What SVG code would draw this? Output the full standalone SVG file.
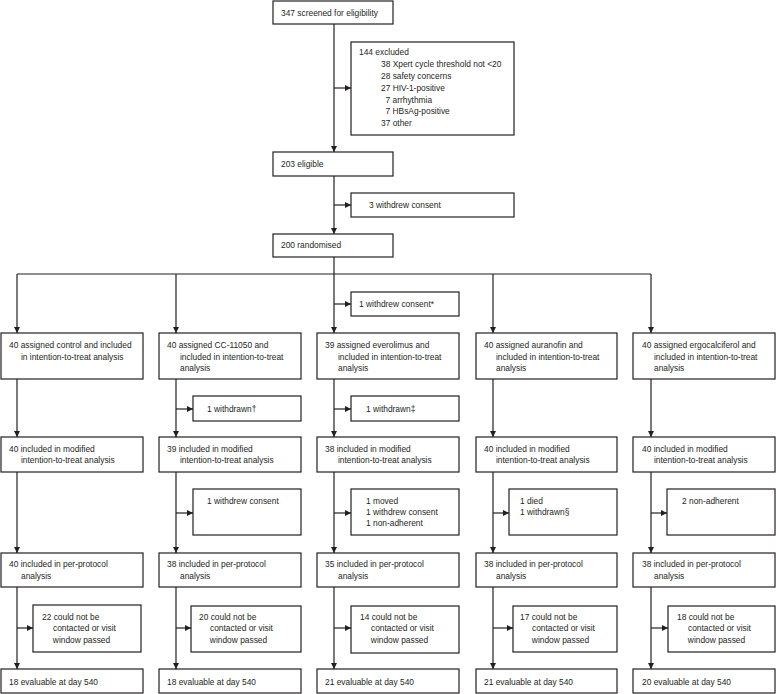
<svg xmlns="http://www.w3.org/2000/svg" width="776" height="694" viewBox="0 0 776 694">
<style>
.box{fill:#fff;stroke:#231f20;stroke-width:1.2}
.ln{fill:none;stroke:#231f20;stroke-width:1.2}
text{font-family:"Liberation Sans",Arial,sans-serif;font-size:9.6px;fill:#231f20;transform-box:fill-box;transform-origin:0 50%;transform:scaleX(0.875)}
</style>
<defs>
<marker id="ah" markerUnits="userSpaceOnUse" markerWidth="7" markerHeight="7" refX="6" refY="3" orient="auto"><path d="M0,0 L6,3 L0,6 z" fill="#231f20"/></marker>
</defs>
<g id="connectors">
<path class="ln" d="M334,24 V152" marker-end="url(#ah)"/>
<path class="ln" d="M334,88 H351" marker-end="url(#ah)"/>
<path class="ln" d="M334,176 V234" marker-end="url(#ah)"/>
<path class="ln" d="M334,205 H351" marker-end="url(#ah)"/>
<path class="ln" d="M334,257 V333" marker-end="url(#ah)"/>
<path class="ln" d="M17,274 H651"/>
<path class="ln" d="M17,274 V333" marker-end="url(#ah)"/>
<path class="ln" d="M176,274 V333" marker-end="url(#ah)"/>
<path class="ln" d="M493,274 V333" marker-end="url(#ah)"/>
<path class="ln" d="M651,274 V333" marker-end="url(#ah)"/>
<path class="ln" d="M334,304 H351" marker-end="url(#ah)"/>
<path class="ln" d="M17,379 V437" marker-end="url(#ah)"/>
<path class="ln" d="M176,379 V437" marker-end="url(#ah)"/>
<path class="ln" d="M334,379 V437" marker-end="url(#ah)"/>
<path class="ln" d="M493,379 V437" marker-end="url(#ah)"/>
<path class="ln" d="M651,379 V437" marker-end="url(#ah)"/>
<path class="ln" d="M176,409 H193" marker-end="url(#ah)"/>
<path class="ln" d="M334,409 H351" marker-end="url(#ah)"/>
<path class="ln" d="M17,472 V553" marker-end="url(#ah)"/>
<path class="ln" d="M176,472 V553" marker-end="url(#ah)"/>
<path class="ln" d="M334,472 V553" marker-end="url(#ah)"/>
<path class="ln" d="M493,472 V553" marker-end="url(#ah)"/>
<path class="ln" d="M651,472 V553" marker-end="url(#ah)"/>
<path class="ln" d="M176,513 H193" marker-end="url(#ah)"/>
<path class="ln" d="M334,513 H351" marker-end="url(#ah)"/>
<path class="ln" d="M493,513 H509" marker-end="url(#ah)"/>
<path class="ln" d="M651,513 H667" marker-end="url(#ah)"/>
<path class="ln" d="M17,587 V669" marker-end="url(#ah)"/>
<path class="ln" d="M176,587 V669" marker-end="url(#ah)"/>
<path class="ln" d="M334,587 V669" marker-end="url(#ah)"/>
<path class="ln" d="M493,587 V669" marker-end="url(#ah)"/>
<path class="ln" d="M651,587 V669" marker-end="url(#ah)"/>
<path class="ln" d="M17,628 H33" marker-end="url(#ah)"/>
<path class="ln" d="M176,628 H191" marker-end="url(#ah)"/>
<path class="ln" d="M334,628 H351" marker-end="url(#ah)"/>
<path class="ln" d="M493,628 H513" marker-end="url(#ah)"/>
<path class="ln" d="M651,628 H668" marker-end="url(#ah)"/>
</g>
<g id="screened"><rect class="box" x="273" y="1" width="120" height="23"/><text x="281" y="16">347 screened for eligibility</text></g>
<g id="excluded"><rect class="box" x="351" y="42" width="163" height="93"/>
<text x="359" y="55.5">144 excluded</text>
<text x="381" y="67.5">38 Xpert cycle threshold not &lt;20</text>
<text x="381" y="79.5">28 safety concerns</text>
<text x="381" y="91">27 HIV-1-positive</text>
<text x="385.5" y="103">7 arrhythmia</text>
<text x="385.5" y="114.5">7 HBsAg-positive</text>
<text x="381" y="126.5">37 other</text></g>
<g id="eligible"><rect class="box" x="273" y="152" width="120" height="24"/><text x="281" y="167.5">203 eligible</text></g>
<g id="withdrew3"><rect class="box" x="351" y="193" width="163" height="24"/><text x="369" y="208.5">3 withdrew consent</text></g>
<g id="randomised"><rect class="box" x="273" y="234" width="120" height="23"/><text x="281" y="248.5">200 randomised</text></g>
<g id="withdrew1"><rect class="box" x="351" y="292" width="108" height="24"/><text x="359" y="307.5">1 withdrew consent*</text></g>

<g id="assigned-control"><rect class="box" x="1" y="333" width="142" height="46"/><text x="9" y="348">40 assigned control and included</text><text x="21" y="360">in intention-to-treat analysis</text></g>
<g id="assigned-cc"><rect class="box" x="159" y="333" width="142" height="46"/><text x="167" y="348">40 assigned CC-11050 and</text><text x="180" y="360">included in intention-to-treat</text><text x="180" y="371.5">analysis</text></g>
<g id="assigned-evero"><rect class="box" x="317" y="333" width="142" height="46"/><text x="325" y="348">39 assigned everolimus and</text><text x="338" y="360">included in intention-to-treat</text><text x="338" y="371.5">analysis</text></g>
<g id="assigned-aura"><rect class="box" x="476" y="333" width="141" height="46"/><text x="484" y="348">40 assigned auranofin and</text><text x="496" y="360">included in intention-to-treat</text><text x="496" y="371.5">analysis</text></g>
<g id="assigned-ergo"><rect class="box" x="633" y="333" width="142" height="46"/><text x="642" y="348">40 assigned ergocalciferol and</text><text x="654" y="360">included in intention-to-treat</text><text x="654" y="371.5">analysis</text></g>

<g id="withdrawn-cc"><rect class="box" x="193" y="396" width="108" height="25"/><text x="207" y="412">1 withdrawn†</text></g>
<g id="withdrawn-evero"><rect class="box" x="351" y="396" width="108" height="25"/><text x="366" y="412">1 withdrawn‡</text></g>

<g id="mitt-control"><rect class="box" x="1" y="437" width="142" height="35"/><text x="9" y="452">40 included in modified</text><text x="21" y="463.5">intention-to-treat analysis</text></g>
<g id="mitt-cc"><rect class="box" x="159" y="437" width="142" height="35"/><text x="167" y="452">39 included in modified</text><text x="180" y="463.5">intention-to-treat analysis</text></g>
<g id="mitt-evero"><rect class="box" x="317" y="437" width="142" height="35"/><text x="325" y="452">38 included in modified</text><text x="338" y="463.5">intention-to-treat analysis</text></g>
<g id="mitt-aura"><rect class="box" x="476" y="437" width="141" height="35"/><text x="484" y="452">40 included in modified</text><text x="496" y="463.5">intention-to-treat analysis</text></g>
<g id="mitt-ergo"><rect class="box" x="633" y="437" width="142" height="35"/><text x="642" y="452">40 included in modified</text><text x="654" y="463.5">intention-to-treat analysis</text></g>

<g id="loss2-cc"><rect class="box" x="193" y="489" width="108" height="46"/><text x="207" y="504.5">1 withdrew consent</text></g>
<g id="loss2-evero"><rect class="box" x="351" y="489" width="108" height="46"/><text x="366" y="504.5">1 moved</text><text x="366" y="515.5">1 withdrew consent</text><text x="366" y="526.5">1 non-adherent</text></g>
<g id="loss2-aura"><rect class="box" x="509" y="489" width="108" height="46"/><text x="520" y="504.5">1 died</text><text x="520" y="515.5">1 withdrawn§</text></g>
<g id="loss2-ergo"><rect class="box" x="667" y="489" width="108" height="46"/><text x="682" y="504.5">2 non-adherent</text></g>

<g id="pp-control"><rect class="box" x="1" y="553" width="142" height="34"/><text x="9" y="567.5">40 included in per-protocol</text><text x="21" y="579">analysis</text></g>
<g id="pp-cc"><rect class="box" x="159" y="553" width="142" height="34"/><text x="167" y="567.5">38 included in per-protocol</text><text x="180" y="579">analysis</text></g>
<g id="pp-evero"><rect class="box" x="317" y="553" width="142" height="34"/><text x="325" y="567.5">35 included in per-protocol</text><text x="338" y="579">analysis</text></g>
<g id="pp-aura"><rect class="box" x="476" y="553" width="141" height="34"/><text x="484" y="567.5">38 included in per-protocol</text><text x="496" y="579">analysis</text></g>
<g id="pp-ergo"><rect class="box" x="633" y="553" width="142" height="34"/><text x="642" y="567.5">38 included in per-protocol</text><text x="654" y="579">analysis</text></g>

<g id="loss3-control"><rect class="box" x="33" y="605" width="108" height="47"/><text x="42" y="620.5">22 could not be</text><text x="53" y="631.5">contacted or visit</text><text x="53" y="643">window passed</text></g>
<g id="loss3-cc"><rect class="box" x="191" y="606" width="110" height="46"/><text x="199" y="620.5">20 could not be</text><text x="210" y="631.5">contacted or visit</text><text x="210" y="643">window passed</text></g>
<g id="loss3-evero"><rect class="box" x="351" y="606" width="108" height="47"/><text x="360" y="620.5">14 could not be</text><text x="371" y="631.5">contacted or visit</text><text x="371" y="643">window passed</text></g>
<g id="loss3-aura"><rect class="box" x="513" y="606" width="104" height="46"/><text x="520" y="620.5">17 could not be</text><text x="532" y="631.5">contacted or visit</text><text x="532" y="643">window passed</text></g>
<g id="loss3-ergo"><rect class="box" x="668" y="606" width="107" height="46"/><text x="677" y="620.5">18 could not be</text><text x="688" y="631.5">contacted or visit</text><text x="688" y="643">window passed</text></g>

<g id="eval-control"><rect class="box" x="1" y="669" width="142" height="24"/><text x="9" y="685">18 evaluable at day 540</text></g>
<g id="eval-cc"><rect class="box" x="159" y="669" width="142" height="24"/><text x="167" y="685">18 evaluable at day 540</text></g>
<g id="eval-evero"><rect class="box" x="317" y="669" width="142" height="24"/><text x="325" y="685">21 evaluable at day 540</text></g>
<g id="eval-aura"><rect class="box" x="476" y="669" width="141" height="24"/><text x="484" y="685">21 evaluable at day 540</text></g>
<g id="eval-ergo"><rect class="box" x="633" y="669" width="142" height="24"/><text x="642" y="685">20 evaluable at day 540</text></g>
</svg>
